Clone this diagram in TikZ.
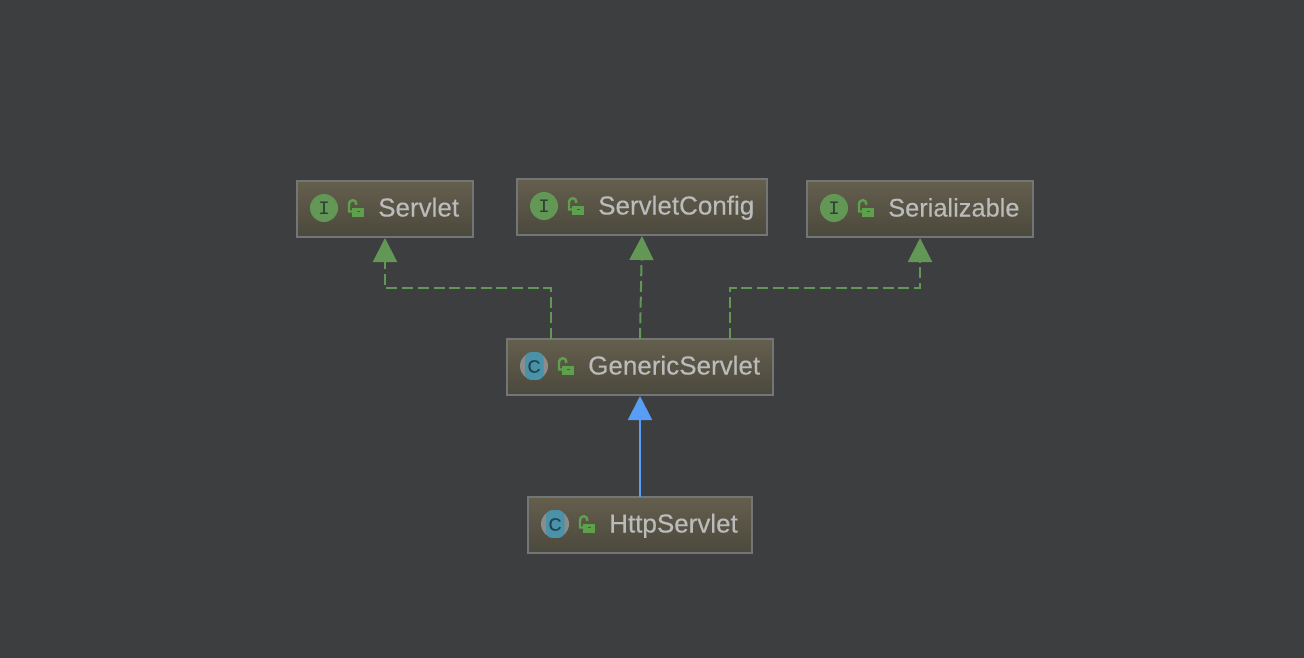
\documentclass[tikz,border=0pt]{standalone}
\usepackage{fontspec}
\setmainfont{Liberation Sans}
\newfontfamily\labelfont[FakeBold=0.25]{Liberation Sans}
\newfontfamily\monoicon{Liberation Mono}
\usetikzlibrary{arrows.meta,calc}
\definecolor{bgc}{HTML}{3D3E40}
\definecolor{boxedge}{HTML}{737576}
\definecolor{boxtop}{HTML}{645E4D}
\definecolor{boxbot}{HTML}{4B493D}
\definecolor{txt}{HTML}{BBBBBB}
\definecolor{grn}{HTML}{629755}
\definecolor{lockgrn}{HTML}{5FA04C}
\definecolor{blu}{HTML}{589DF6}
\definecolor{teal}{HTML}{4A92A8}
\definecolor{cgray}{HTML}{8C8C8A}
\definecolor{darkic}{HTML}{2B3F33}
\definecolor{darkc}{HTML}{1F4555}
\tikzset{
  x=1pt,y=-1pt,
  classbox/.style={draw=boxedge,line width=2pt,top color=boxtop,bottom color=boxbot,
    minimum height=56pt,inner sep=0pt,outer sep=0pt,anchor=north west},
  label text/.style={text=txt,font=\labelfont\fontsize{26}{30}\selectfont,anchor=base west,inner sep=0pt},
  ifaceicon/.style={circle,fill=grn,minimum size=28pt,inner sep=0pt,text=darkic,font=\monoicon\fontsize{19}{19}\selectfont},
  classicon/.style={circle,fill=cgray,minimum size=28pt,inner sep=0pt},
  impl/.style={grn,line width=2pt,dash pattern=on 11pt off 4.7pt,-{Triangle[width=24pt,length=24pt,fill=grn,sep=0pt]},shorten >=1pt},
  ext/.style={blu,line width=2pt,-{Triangle[width=24pt,length=24pt,fill=blu]},shorten >=1pt},
}
\newcommand{\lockat}[1]{%
  \begin{scope}[shift={(#1)}]
    \fill[lockgrn] (-3,-0.5) rectangle (9,9);
    \fill[boxbot!85!lockgrn] (1.5,2.8) rectangle (4.8,4.4);
    \draw[lockgrn,line width=2.4pt] (-3,3.5) -- (-6,3.5) -- (-6,-3) .. controls (-6,-9.5) and (1.5,-9.5) .. (1.5,-3.2);
  \end{scope}}
\newcommand{\cband}[2]{%
  \fill[teal,rounded corners=6pt] ($(#1,#2)+(-9,-13.8)$) rectangle ($(#1,#2)+(9.5,13.8)$);}
\begin{document}
\begin{tikzpicture}
\useasboundingbox (0,0) rectangle (1304,658);
\fill[bgc] (0,0) rectangle (1304,658);

\node[classbox,minimum width=176pt] (servlet) at (297,181) {};
\node[classbox,minimum width=250pt] (config) at (517,179) {};
\node[classbox,minimum width=226pt] (serial) at (807,181) {};
\node[classbox,minimum width=266pt] (generic) at (507,339) {};
\node[classbox,minimum width=224pt] (http) at (528,497) {};

\node[ifaceicon] (i1) at (324,208) {I};
\lockat{355,208}
\node[label text] (t1) at (378,216.5) {Servlet};
\node[ifaceicon] (i2) at (544,206) {I};
\lockat{575,206}
\node[label text] (t2) at (598,214.5) {ServletConfig};
\node[ifaceicon] (i3) at (834,208) {I};
\lockat{865,208}
\node[label text,font=\labelfont\fontsize{25.4}{30}\selectfont] (t3) at (888,216.5) {Serializable};

\node[classicon] (c1) at (534,366) {};
\cband{534}{366}
\node[text=darkc,font=\labelfont\fontsize{18}{18}\selectfont,inner sep=0pt] (c1t) at (534,366.5) {C};
\lockat{565,366}
\node[label text] (t4) at (588,374.5) {GenericServlet};

\node[classicon] (c2) at (555,524) {};
\cband{555}{524}
\node[text=darkc,font=\labelfont\fontsize{18}{18}\selectfont,inner sep=0pt] (c2t) at (555,524.5) {C};
\lockat{586,524}
\node[label text] (t5) at (609,532.5) {HttpServlet};

\coordinate (gl) at ($(generic.north)+(-89.5,0)$);
\coordinate (gr) at ($(generic.north)+(89.5,0)$);
\coordinate (elbow1) at (servlet.south |- 0,288);
\coordinate (elbow2) at (gl |- 0,288);
\coordinate (elbow3) at (gr |- 0,288);
\coordinate (elbow4) at (serial.south |- 0,288);
\draw[impl] (gl) -- (elbow2) -- (elbow1) -- (servlet.south);
\draw[impl] (generic.north) -- (config.south);
\draw[impl] (gr) -- (elbow3) -- (elbow4) -- (serial.south);
\draw[ext] (http.north) -- (generic.south);
\end{tikzpicture}
\end{document}
